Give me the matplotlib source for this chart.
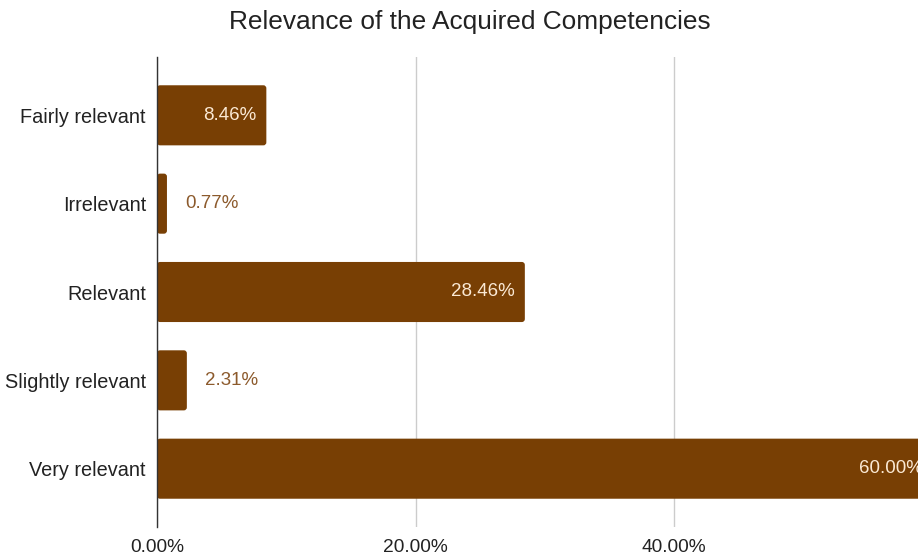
import matplotlib.pyplot as plt
from matplotlib.patches import FancyBboxPatch
from matplotlib.ticker import FuncFormatter

plt.rcParams['font.family'] = ['Liberation Sans', 'DejaVu Sans']

categories = ["Fairly relevant", "Irrelevant", "Relevant", "Slightly relevant", "Very relevant"]
shares = [8.46, 0.77, 28.46, 2.31, 60.00]
ticks = [0, 20, 40]

bar_color = "#783f04"
W, H = 918, 556

fig = plt.figure(figsize=(W / 100, H / 100), dpi=100)
# axes run a little past the right edge, so the 60% bar gets cut off
ax = fig.add_axes([157 / W, 29 / H, 775.5 / W, 470 / H])

ax.set_xlim(0, 60)
ax.set_ylim(len(categories) - 1 + 0.66, -0.66)

bars = ax.barh(range(len(categories)), shares, height=0.68, color=bar_color)
# swap the plain rectangles for slightly rounded ones
x_px = 775.5 / 60
y_px = 470 / (len(categories) - 1 + 1.32)
for b in bars:
    b.set_visible(False)
    r = 3 / x_px
    box = FancyBboxPatch((b.get_x(), b.get_y()), b.get_width(), b.get_height(),
                         boxstyle=f"round,pad=0,rounding_size={r}",
                         mutation_aspect=x_px / y_px,
                         facecolor=bar_color, edgecolor="none", zorder=2)
    ax.add_patch(box)

for i, v in enumerate(shares):
    label = f"{v:.2f}%"
    if v > 5:
        ax.annotate(label, (v, i), xytext=(-7, 0), textcoords="offset points",
                    ha="right", va="center", color="#fbe9d4", fontsize=13.5)
    else:
        ax.annotate(label, (v, i), xytext=(13, 0), textcoords="offset points",
                    ha="left", va="center", color="#8c5a2c", fontsize=13.5)

ax.set_yticks(range(len(categories)))
ax.set_yticklabels(categories, fontsize=14.3, color="#222222")
ax.set_xticks(ticks)
ax.xaxis.set_major_formatter(FuncFormatter(lambda x, p: f"{x:.2f}%"))
ax.tick_params(axis="x", length=0, pad=9, labelsize=13.8, labelcolor="#222222")
ax.tick_params(axis="y", length=0, pad=8)

ax.grid(axis="x", color="#cccccc", linewidth=1, zorder=0)
ax.set_axisbelow(True)
for s in ["top", "right", "bottom"]:
    ax.spines[s].set_visible(False)
ax.spines["left"].set_color("#333333")
ax.spines["left"].set_linewidth(1)
ax.spines["left"].set_zorder(3)

fig.text(470 / W, 1 - 22 / H, "Relevance of the Acquired Competencies",
         ha="center", va="center", fontsize=18.9, color="#222222")

fig.savefig("out.png", dpi=100)
